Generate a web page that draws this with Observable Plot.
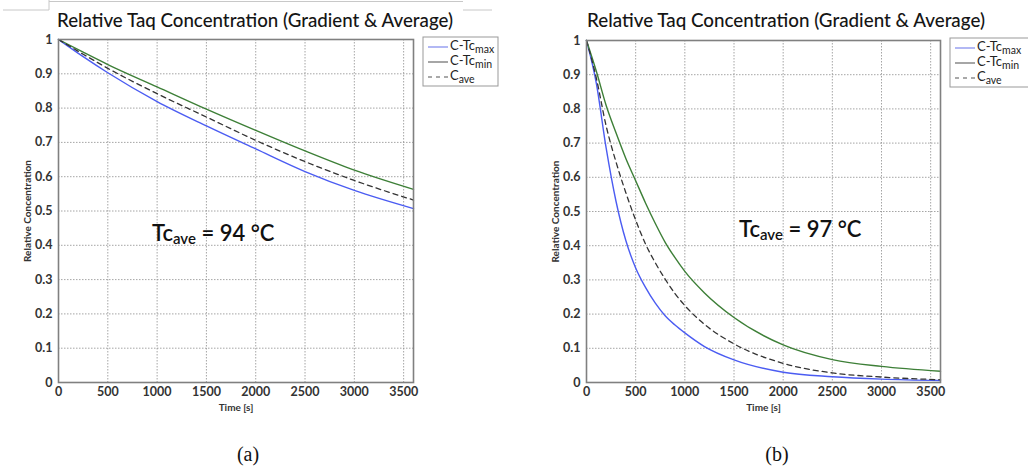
<!DOCTYPE html>
<html>
<head>
<meta charset="utf-8">
<script src="https://cdn.jsdelivr.net/npm/d3@7"></script>
<script src="https://cdn.jsdelivr.net/npm/@observablehq/plot@0.6"></script>
<style>
  html, body { margin: 0; padding: 0; background: #fff; }
  #fig { position: relative; width: 1028px; height: 473px; overflow: hidden; background: #fff; }
  .panel { position: absolute; top: 0; }
  .panel svg { overflow: visible; }
  g[aria-label="x-axis tick label"] text, g[aria-label="y-axis tick label"] text { font-size: 12.5px; }
  g[aria-label="x-axis label"] text, g[aria-label="y-axis label"] text { font-size: 10px; }
  #overlay { position: absolute; left: 0; top: 0; pointer-events: none; }
</style>
</head>
<body>
<div id="fig"></div>
<script>
// ---- data ----
const xTicks = [0, 500, 1000, 1500, 2000, 2500, 3000, 3500];
const yTicks = [0, 0.1, 0.2, 0.3, 0.4, 0.5, 0.6, 0.7, 0.8, 0.9, 1];
const seriesNames = ["C-Tc max", "C-Tc min", "C ave"];

// Panel (a): Tc_ave = 94 °C
const timeA = [0, 250, 500, 1000, 1500, 2000, 2500, 3000, 3600];
const aMax  = [1, 0.950, 0.903, 0.819, 0.748, 0.681, 0.615, 0.560, 0.507];
const aMin  = [1, 0.963, 0.927, 0.862, 0.797, 0.735, 0.675, 0.619, 0.563];
const aAve  = [1, 0.957, 0.916, 0.842, 0.774, 0.706, 0.644, 0.589, 0.532];

// Panel (b): Tc_ave = 97 °C
const timeB = [0, 100, 200, 300, 400, 500, 600, 700, 800, 900, 1000, 1200, 1500, 2000, 2500, 3000, 3600];
const bMax  = [1, 0.875, 0.685, 0.530, 0.415, 0.335, 0.278, 0.232, 0.195, 0.168, 0.145, 0.105, 0.066, 0.030, 0.017, 0.010, 0.006];
const bMin  = [1, 0.910, 0.810, 0.730, 0.655, 0.590, 0.525, 0.465, 0.410, 0.365, 0.325, 0.262, 0.190, 0.110, 0.067, 0.047, 0.033];
const bAve  = [1, 0.890, 0.750, 0.645, 0.555, 0.475, 0.405, 0.350, 0.302, 0.260, 0.225, 0.170, 0.113, 0.056, 0.028, 0.016, 0.008];

const colors = {"C-Tc max": "#4b5cf2", "C-Tc min": "#3d7f37", "C ave": "#333333"};

function rows(t, vMax, vMin, vAve) {
  const out = [];
  t.forEach((x, i) => {
    out.push({t: x, v: vMax[i], s: seriesNames[0]});
    out.push({t: x, v: vMin[i], s: seriesNames[1]});
    out.push({t: x, v: vAve[i], s: seriesNames[2]});
  });
  return out;
}

function panel(data, marginTop, marginRight) {
  const solid = data.filter(d => d.s !== "C ave");
  const dashed = data.filter(d => d.s === "C ave");
  return Plot.plot({
    width: 420, height: 420,
    marginLeft: 58, marginRight, marginTop, marginBottom: 38,
    x: {domain: [0, 3600]},
    y: {domain: [0, 1]},
    style: {fontFamily: "Lato, 'Open Sans', sans-serif", fontSize: "12.5px", fontWeight: "bold", color: "#333", background: "transparent"},
    marks: [
      Plot.gridX(xTicks, {stroke: "#8e8e8e", strokeOpacity: 1, strokeWidth: 0.8, strokeDasharray: "1.5,1.5"}),
      Plot.gridY(yTicks, {stroke: "#8e8e8e", strokeOpacity: 1, strokeWidth: 0.8, strokeDasharray: "1.5,1.5"}),
      Plot.axisX(xTicks, {tickSize: 0, tickPadding: 5, fontSize: 12.5, tickFormat: d => String(d), label: null}),
      Plot.axisY(yTicks, {tickSize: 0, tickPadding: 6, fontSize: 12.5, tickFormat: d => String(d), label: null}),
      Plot.axisX({tickSize: 0, ticks: [], fontSize: 10, label: "Time [s]", labelAnchor: "center", labelArrow: "none", labelOffset: 28}),
      Plot.axisY({tickSize: 0, ticks: [], fontSize: 10, label: "Relative Concentration", labelAnchor: "center", labelArrow: "none", labelOffset: 35}),
      Plot.line(solid, {x: "t", y: "v", z: "s", stroke: d => colors[d.s], strokeWidth: 1.4, curve: "monotone-x"}),
      Plot.line(dashed, {x: "t", y: "v", stroke: colors["C ave"], strokeWidth: 1.3, strokeDasharray: "5,4", curve: "monotone-x"}),
      Plot.frame({stroke: "#808080", strokeWidth: 1.6})
    ]
  });
}

const fig = document.getElementById("fig");
const pa = document.createElement("div"); pa.className = "panel"; pa.style.left = "0px";
pa.appendChild(panel(rows(timeA, aMax, aMin, aAve), 39, 7));
fig.appendChild(pa);
const pb = document.createElement("div"); pb.className = "panel"; pb.style.left = "528px";
pb.appendChild(panel(rows(timeB, bMax, bMin, bAve), 40, 8));
fig.appendChild(pb);

// ---- overlay: titles, annotations, legends, captions ----
const titleText = "Relative Taq Concentration (Gradient & Average)";
function legend(x0, y0, w) {
  return `
  <rect x="${x0}" y="${y0}" width="${w}" height="49" fill="#fff" stroke="#999" stroke-width="1"/>
  <line x1="${x0+5}" x2="${x0+25}" y1="${y0+10}" y2="${y0+10}" stroke="#9fa6f2" stroke-width="1.6"/>
  <line x1="${x0+5}" x2="${x0+25}" y1="${y0+25}" y2="${y0+25}" stroke="#6b6b6b" stroke-width="1.2"/>
  <line x1="${x0+5}" x2="${x0+25}" y1="${y0+40}" y2="${y0+40}" stroke="#555" stroke-width="1.2" stroke-dasharray="4,4"/>
  <text x="${x0+27}" y="${y0+13}" font-size="13">C-Tc<tspan dy="3" font-size="10.5">max</tspan></text>
  <text x="${x0+27}" y="${y0+28}" font-size="13">C-Tc<tspan dy="3" font-size="10.5">min</tspan></text>
  <text x="${x0+27}" y="${y0+43}" font-size="13">C<tspan dy="3" font-size="10.5">ave</tspan></text>`;
}
const overlay = `
<svg id="overlay" width="1028" height="473" font-family="Lato, 'Open Sans', sans-serif" fill="#222">
  <path d="M3,10H49V0M49,1.5H463M463,10H492" fill="none" stroke="#c8c8c8" stroke-width="1"/>
  <text x="57" y="27" font-size="19" font-weight="500" fill="#151515" textLength="396" lengthAdjust="spacingAndGlyphs">${titleText.replace("&", "&amp;")}</text>
  <text x="587" y="27" font-size="19" font-weight="500" fill="#151515" textLength="398" lengthAdjust="spacingAndGlyphs">${titleText.replace("&", "&amp;")}</text>
  ${legend(423, 37, 75)}
  ${legend(950, 38, 90)}
  <text x="152" y="241" font-size="22" font-weight="600" fill="#111">Tc<tspan dy="3" font-size="15">ave</tspan><tspan dy="-3"> = 94 °C</tspan></text>
  <text x="739" y="237" font-size="22" font-weight="600" fill="#111">Tc<tspan dy="3" font-size="15">ave</tspan><tspan dy="-3"> = 97 °C</tspan></text>
  <text x="248" y="461" font-size="20" font-family="'Liberation Serif', 'DejaVu Serif', serif" text-anchor="middle" fill="#111">(a)</text>
  <text x="777" y="461" font-size="20" font-family="'Liberation Serif', 'DejaVu Serif', serif" text-anchor="middle" fill="#111">(b)</text>
</svg>`;
fig.insertAdjacentHTML("beforeend", overlay);
</script>
</body>
</html>
